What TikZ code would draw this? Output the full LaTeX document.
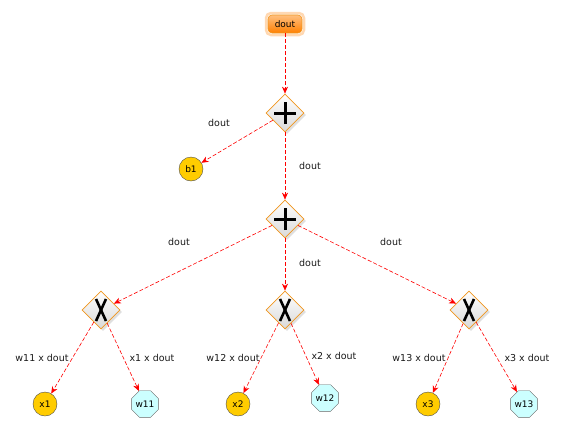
\documentclass[tikz,border=0pt]{standalone}
\usepackage{fontspec}
\setmainfont{DejaVu Sans}
\usetikzlibrary{shapes.geometric,arrows.meta,shadows}
\definecolor{gold}{RGB}{255,204,0}
\definecolor{lcyan}{RGB}{204,255,255}
\definecolor{dorange}{RGB}{240,150,30}
\tikzset{
  opbox/.style={diamond,draw=dorange,line width=0.7pt,minimum width=38pt,minimum height=38pt,inner sep=0pt,
     top color=white,bottom color=black!15,drop shadow={opacity=0.25,shadow xshift=2pt,shadow yshift=-2pt}},
  varc/.style={circle,draw=black!70,fill=gold,minimum size=24pt,inner sep=0pt,font=\fontsize{9}{10}\selectfont},
  varo/.style={regular polygon,regular polygon sides=8,draw=black!60,fill=lcyan,minimum size=27pt,inner sep=0pt,font=\fontsize{9}{10}\selectfont},
  flow/.style={red,dashed,line width=0.6pt,dash pattern=on 4pt off 2pt,-{Stealth[length=7pt,width=6pt]}},
  lbl/.style={font=\fontsize{9.5}{11}\selectfont,text=black!90},
  sym/.style={line width=3pt,black}
}
\begin{document}
\begin{tikzpicture}[x=1pt,y=-1pt]
\useasboundingbox (0,0) rectangle (566,429);
% top node
\node[draw=orange!60,line width=2.5pt,opacity=0.5,rounded corners=5pt,minimum width=38pt,minimum height=22pt] at (285,24) {};
\node (dout) [rounded corners=4pt,draw=dorange,line width=0.6pt,top color=orange!50,bottom color=orange,minimum width=34pt,minimum height=18pt,inner sep=0pt,font=\fontsize{9}{10}\selectfont] at (285,24) {dout};
\node (p1) [opbox] at (285,113) {};
\node (p2) [opbox] at (285,219) {};
\node (m1) [opbox] at (101,310) {};
\node (m2) [opbox] at (285,310) {};
\node (m3) [opbox] at (469,310) {};
\node (b1) [varc] at (191,169) {b1};
\node (x1) [varc] at (45,404) {x1};
\node (x2) [varc] at (238,404) {x2};
\node (x3) [varc] at (428,404) {x3};
\node (w11) [varo] at (145,404) {w11};
\node (w12) [varo] at (325,398) {w12};
\node (w13) [varo] at (524,404) {w13};
% symbols
\foreach \n in {p1,p2}{
  \draw[sym] ([xshift=-11pt]\n.center) -- ([xshift=11pt]\n.center);
  \draw[sym] ([yshift=-11pt]\n.center) -- ([yshift=11pt]\n.center);
}
\foreach \n in {m1,m2,m3}{
  \draw[line width=2.6pt] ([xshift=-5pt,yshift=-11pt]\n.center) -- ([xshift=5pt,yshift=11pt]\n.center);
  \draw[line width=2.6pt] ([xshift=5pt,yshift=-11pt]\n.center) -- ([xshift=-5pt,yshift=11pt]\n.center);
}
% edges
\draw[flow] (dout) -- (p1);
\draw[flow] (p1) -- (b1);
\draw[flow] (p1) -- (p2);
\draw[flow] (p2) -- (m1);
\draw[flow] (p2) -- (m2);
\draw[flow] (p2) -- (m3);
\draw[flow] (m1) -- (x1);
\draw[flow] (m1) -- (w11);
\draw[flow] (m2) -- (x2);
\draw[flow] (m2) -- (w12);
\draw[flow] (m3) -- (x3);
\draw[flow] (m3) -- (w13);
% labels
\node[lbl] (l1) at (219,123) {dout};
\node[lbl] (l2) at (310,166) {dout};
\node[lbl] (l3) at (179,242) {dout};
\node[lbl] (l4) at (310,263) {dout};
\node[lbl] (l5) at (391,242) {dout};
\node[lbl] (l6) at (42,358) {w11 x dout};
\node[lbl] (l7) at (152,358) {x1 x dout};
\node[lbl] (l8) at (233,358) {w12 x dout};
\node[lbl] (l9) at (334,356) {x2 x dout};
\node[lbl] (l10) at (419,358) {w13 x dout};
\node[lbl] (l11) at (527,358) {x3 x dout};
\end{tikzpicture}
\end{document}
